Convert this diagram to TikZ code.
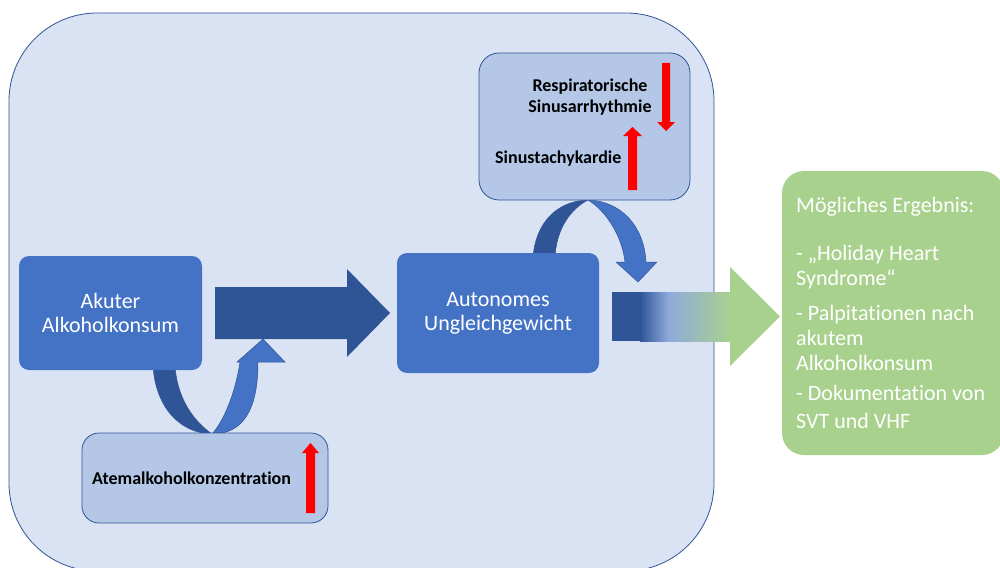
\documentclass[tikz,border=0pt]{standalone}
\usepackage{fontspec}
\setmainfont{Carlito}[Ligatures=NoCommon]
\definecolor{frameFill}{HTML}{DAE3F3}
\definecolor{lineBlue}{HTML}{2F5597}
\definecolor{paleBlue}{HTML}{B4C7E7}
\definecolor{midBlue}{HTML}{4472C4}
\definecolor{darkBlue}{HTML}{2F5597}
\definecolor{fadeBlue}{HTML}{8FAADC}
\definecolor{leafGreen}{HTML}{A9D18E}
\definecolor{alarmRed}{HTML}{FF0000}
\tikzset{
  framebox/.style={draw=lineBlue, line width=0.8pt, fill=frameFill, rounded corners=88pt, inner sep=0pt},
  palebox/.style={draw=lineBlue, line width=0.8pt, fill=paleBlue, inner sep=0pt},
  solidbox/.style={fill=midBlue, rounded corners=10pt, inner sep=0pt, text=white, align=center,
    font=\fontsize{22}{24}\selectfont},
  resultbox/.style={fill=leafGreen, rounded corners=22pt, inner sep=0pt},
  boldlabel/.style={inner sep=0pt, font=\fontsize{18}{20}\selectfont\bfseries, text=black},
  resultline/.style={inner sep=0pt, anchor=base west, text=white, font=\fontsize{22}{24}\selectfont},
  redarrow/.style={fill=alarmRed},
  bandback/.style={fill=darkBlue, draw=lineBlue, line width=0.5pt},
  bandfront/.style={fill=midBlue, draw=lineBlue, line width=0.5pt},
}
\begin{document}
\begin{tikzpicture}[x=1pt, y=-1pt]
\useasboundingbox (0,0) rectangle (1000,567);
\clip (0,0) rectangle (1000,567);

% outer frame
\node[framebox, minimum width=705pt, minimum height=558pt] (frame) at (361.5,292) {};

% curved arrow from the consumption box down to the breath alcohol box and back up
\path[bandback] (153,365) .. controls (155,405) and (178,433) .. (212,434)
  .. controls (195,422) and (177,400) .. (175,365) -- cycle;
\path[bandfront] (212,434) .. controls (223,422) and (235,395) .. (240,362)
  -- (237,362) -- (263,339) -- (285,362) -- (258,362)
  .. controls (258,410) and (243,434) .. (212,434) -- cycle;

% curved arrow from the imbalance box up to the rhythm box and back down
\path[bandback] (533,258) .. controls (535,225) and (555,201) .. (588,200)
  .. controls (572,208) and (556,228) .. (555,258) -- cycle;
\path[bandfront] (588,200) .. controls (620,201) and (644,225) .. (646,262)
  -- (657,262) -- (638,282) -- (616,262) -- (625,262)
  .. controls (622,235) and (605,210) .. (588,200) -- cycle;

% boxes
\node[palebox, rounded corners=20pt, minimum width=211pt, minimum height=147pt] (rhythm) at (584.5,126.5) {};
\node[palebox, rounded corners=17pt, minimum width=246pt, minimum height=90pt] (breath) at (205,478) {};
\node[solidbox, minimum width=183pt, minimum height=114pt] (acute) at (110.5,313) {Akuter\\Alkoholkonsum};
\node[solidbox, minimum width=202pt, minimum height=120pt] (imbalance) at (498,313) {Autonomes\\Ungleichgewicht};
\node[resultbox, minimum width=222pt, minimum height=284pt] (result) at (893,313) {};

% main block arrow
\fill[darkBlue] (215,287) -- (347,287) -- (347,269) -- (390,313) -- (347,357)
  -- (347,339) -- (215,339) -- cycle;

% fading block arrow towards the result
\fill[darkBlue] (612,292) rectangle (640.5,341);
\shade[left color=darkBlue, right color=fadeBlue] (640,292) rectangle (668.5,341);
\shade[left color=fadeBlue, right color=leafGreen] (668,292) rectangle (731,341);
\fill[leafGreen] (730,267) -- (780,316.5) -- (730,366) -- cycle;

% labels in the pale boxes
\node[boldlabel, anchor=base] (resp1) at (590,92) {Respiratorische};
\node[boldlabel, anchor=base] (resp2) at (590,113) {Sinusarrhythmie};
\node[boldlabel, anchor=base west] (tachy) at (495,163) {Sinustachykardie};
\node[boldlabel, anchor=base west] (breathtxt) at (92,484) {Atemalkoholkonzentration};

% red trend arrows
\fill[redarrow] (662,63) -- (670,63) -- (670,122) -- (675,122) -- (666,131) -- (657,122) -- (662,122) -- cycle;
\fill[redarrow] (628,190) -- (637,190) -- (637,136) -- (642,136) -- (632.5,127) -- (623,136) -- (628,136) -- cycle;
\fill[redarrow] (306,513) -- (315,513) -- (315,453) -- (319,453) -- (310.5,443) -- (302,453) -- (306,453) -- cycle;

% result text
\node[resultline] (r1) at (796,212) {Mögliches Ergebnis:};
\node[resultline] (r2) at (796,260) {- „Holiday Heart};
\node[resultline] (r3) at (796,285) {Syndrome“};
\node[resultline] (r4) at (796,320) {- Palpitationen nach};
\node[resultline] (r5) at (796,345) {akutem};
\node[resultline] (r6) at (796,370) {Alkoholkonsum};
\node[resultline] (r7) at (796,400) {- Dokumentation von};
\node[resultline] (r8) at (796,428) {SVT und VHF};
\end{tikzpicture}
\end{document}
